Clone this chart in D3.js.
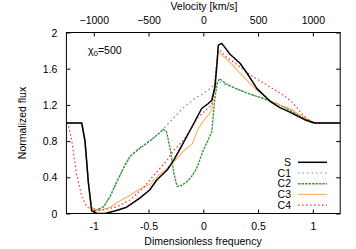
<!DOCTYPE html>
<html><head><meta charset="utf-8">
<script src="https://cdn.jsdelivr.net/npm/d3@7"></script>
<style>
body{margin:0;background:#fff;}
text{font-family:"Liberation Sans",Arial,sans-serif;font-size:10.5px;fill:#000;}
</style></head>
<body><svg id="c" width="356" height="249"></svg>
<script>
const xTicks = [-1, -0.5, 0, 0.5, 1];
const xTickLabels = ["-1", "-0.5", "0", "0.5", "1"];
const vTicks = [-1000, -500, 0, 500, 1000];
const yTicks = [0, 0.4, 0.8, 1.2, 1.6, 2];
const yTickLabels = ["0", "0.4", "0.8", "1.2", "1.6", "2"];
const seriesNames = ["S", "C1", "C2", "C3", "C4"];

const sX = [-1.25,-1.11,-1.08,-1.05,-1.02,-0.97,-0.9,-0.8,-0.7,-0.64,-0.58,-0.49,-0.425,-0.33,-0.27,-0.21,-0.12,-0.05,-0.015,0.04,0.077,0.107,0.125,0.137,0.168,0.2,0.244,0.335,0.40,0.49,0.61,0.70,0.79,0.87,0.94,1.02,1.25];
const sY = [1,1,0.8,0.35,0.03,0.0,0.0,0.03,0.07,0.12,0.17,0.26,0.37,0.48,0.59,0.72,0.92,1.08,1.16,1.21,1.25,1.40,1.65,1.86,1.88,1.83,1.76,1.66,1.55,1.38,1.24,1.17,1.12,1.07,1.03,1.0,1.0];

const c1X = [-1.25,-1.11,-1.08,-1.05,-1.02,-0.97,-0.91,-0.85,-0.79,-0.73,-0.67,-0.58,-0.49,-0.40,-0.30,-0.18,-0.08,0.03,0.12,0.16,0.21,0.30,0.40,0.55,0.70,0.82,0.94,1.0,1.25];
const c1Y = [1,1,0.8,0.35,0.06,0.04,0.075,0.19,0.35,0.50,0.63,0.73,0.80,0.89,1.02,1.17,1.27,1.35,1.44,1.45,1.42,1.38,1.33,1.27,1.20,1.12,1.03,1.0,1.0];

const c2X = [-1.25,-1.11,-1.08,-1.05,-1.02,-0.97,-0.91,-0.85,-0.79,-0.73,-0.67,-0.58,-0.49,-0.40,-0.365,-0.335,-0.30,-0.27,-0.24,-0.20,-0.15,-0.10,-0.06,0.0,0.04,0.077,0.107,0.13,0.15,0.17,0.21,0.30,0.40,0.55,0.70,0.82,0.94,1.0,1.25];
const c2Y = [1,1,0.8,0.35,0.06,0.04,0.075,0.19,0.35,0.50,0.63,0.72,0.80,0.89,0.93,0.90,0.70,0.45,0.30,0.31,0.35,0.42,0.50,0.70,0.80,0.90,1.29,1.45,1.49,1.47,1.43,1.38,1.33,1.27,1.20,1.12,1.03,1.0,1.0];

const c3X = [-1.25,-1.11,-1.08,-1.05,-1.02,-0.96,-0.85,-0.76,-0.67,-0.58,-0.49,-0.40,-0.33,-0.27,-0.18,-0.10,-0.06,-0.015,0.04,0.077,0.107,0.125,0.137,0.17,0.244,0.335,0.40,0.49,0.61,0.70,0.79,0.87,0.94,1.02,1.25];
const c3Y = [1,1,0.8,0.35,0.06,0.03,0.07,0.14,0.20,0.27,0.32,0.43,0.50,0.57,0.69,0.77,0.90,1.0,1.08,1.14,1.47,1.70,1.79,1.75,1.67,1.55,1.47,1.36,1.25,1.20,1.16,1.10,1.05,1.0,1.0];

const c4X = [-1.25,-1.23,-1.2,-1.16,-1.11,-1.065,-1.0,-0.91,-0.79,-0.67,-0.55,-0.425,-0.33,-0.27,-0.18,-0.12,-0.045,0.02,0.077,0.10,0.116,0.137,0.17,0.21,0.244,0.335,0.43,0.58,0.73,0.82,0.91,0.97,1.02,1.25];
const c4Y = [1,0.97,0.80,0.45,0.19,0.075,0.03,0.04,0.075,0.15,0.28,0.46,0.59,0.70,0.81,0.92,1.07,1.14,1.20,1.35,1.59,1.83,1.78,1.73,1.70,1.62,1.53,1.42,1.31,1.22,1.09,1.02,1.0,1.0];

const seriesX = [sX, c1X, c2X, c3X, c4X];
const seriesY = [sY, c1Y, c2Y, c3Y, c4Y];
const colors = ["#000000", "#7b7bdc", "#3a9a3a", "#ffae5c", "#f03030"];
const widths = [1.5, 1.2, 1.4, 1.1, 1.2];
const dashes = [null, "1.5,3", "2.5,1", null, "1.5,2.5"];

const L = 66.4, R = 340.2, T = 32.5, B = 213.5;
const svg = d3.select("#c");
const x = d3.scaleLinear().domain([-1.25, 1.25]).range([L, R]);
const xv = d3.scaleLinear().domain([-1250, 1250]).range([L, R]);
const y = d3.scaleLinear().domain([0, 2]).range([B, T]);

const ax = svg.append("g").attr("transform", `translate(0,${B})`)
  .call(d3.axisBottom(x).tickValues(xTicks).tickFormat((d,i)=>xTickLabels[i]).tickSizeInner(-4).tickSizeOuter(0).tickPadding(9));
const axT = svg.append("g").attr("transform", `translate(0,${T})`)
  .call(d3.axisTop(xv).tickValues(vTicks).tickFormat(d3.format("d")).tickSizeInner(-4).tickSizeOuter(0).tickPadding(9));
const ay = svg.append("g").attr("transform", `translate(${L},0)`)
  .call(d3.axisLeft(y).tickValues(yTicks).tickFormat((d,i)=>yTickLabels[i]).tickSizeInner(-4).tickSizeOuter(0).tickPadding(9));
const ayR = svg.append("g").attr("transform", `translate(${R},0)`)
  .call(d3.axisRight(y).tickValues(yTicks).tickFormat("").tickSizeInner(-4).tickSizeOuter(0));
[ax, axT, ay, ayR].forEach(g => {
  g.select(".domain").remove();
  g.selectAll("line").attr("stroke", "#000").attr("stroke-width", 1);
  g.selectAll("text").attr("font-family", "Liberation Sans, Arial, sans-serif").attr("font-size", 10.5).attr("fill", "#000");
});
ay.selectAll("text").attr("dy", "0.35em");

const line = d3.line().x(d => x(d[0])).y(d => y(d[1]));
const order = [1, 2, 3, 4, 0];
svg.append("clipPath").attr("id", "pc").append("rect")
  .attr("x", L).attr("y", T).attr("width", R - L).attr("height", B - T);
order.forEach(i => {
  const pts = seriesX[i].map((v, k) => [v, seriesY[i][k]]);
  svg.append("path").attr("d", line(pts)).attr("fill", "none")
    .attr("stroke", colors[i]).attr("stroke-width", widths[i])
    .attr("stroke-dasharray", dashes[i]).attr("stroke-linejoin", "round")
    .attr("clip-path", "url(#pc)");
});

svg.append("rect").attr("x", L).attr("y", T).attr("width", R - L).attr("height", B - T)
  .attr("fill", "none").attr("stroke", "#000").attr("stroke-width", 1);

svg.append("text").attr("x", 204).attr("y", 10).attr("text-anchor", "middle").text("Velocity [km/s]");
svg.append("text").attr("x", 203).attr("y", 245).attr("text-anchor", "middle").text("Dimensionless frequency");
svg.append("text").attr("transform", "translate(26,123) rotate(-90)").attr("text-anchor", "middle").text("Normalized flux");
const chi = svg.append("text").attr("x", 88).attr("y", 54);
chi.append("tspan").text("χ");
chi.append("tspan").attr("font-size", 8).attr("dy", 2).text("0");
chi.append("tspan").attr("dy", -2).text("=500");

seriesNames.forEach((n, i) => {
  const cy = 162.3 + i * 10.7;
  svg.append("text").attr("x", 291).attr("y", cy + 3.7).attr("text-anchor", "end").text(n);
  svg.append("line").attr("x1", 298).attr("x2", 327).attr("y1", cy).attr("y2", cy)
    .attr("stroke", colors[i]).attr("stroke-width", widths[i]).attr("stroke-dasharray", dashes[i]);
});
</script></body></html>
